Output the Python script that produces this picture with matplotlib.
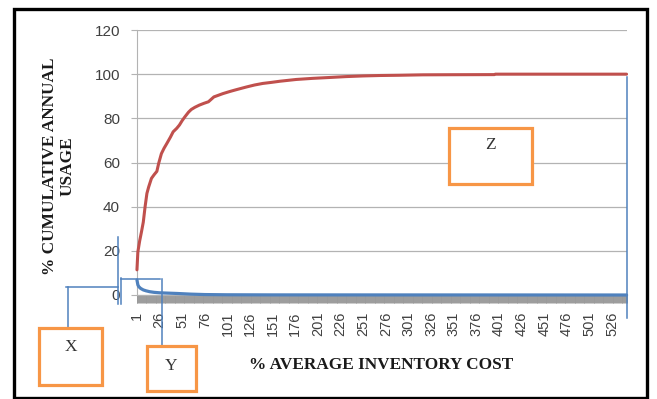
import numpy as np
import matplotlib
matplotlib.use('Agg')
import matplotlib.pyplot as plt
from matplotlib.lines import Line2D
from matplotlib.patches import Rectangle
from matplotlib.ticker import FixedLocator

# number of inventory items on the category axis
n_items = 542

# cumulative annual usage (%) read at selected items
usage_items = [1, 2, 4, 6, 8, 10, 12, 14, 17, 20, 23, 25, 28, 31, 34, 38, 41, 45,
               48, 51, 54, 58, 61, 65, 70, 75, 80, 86, 92, 96, 104, 111, 122, 131,
               140, 150, 159, 168, 177, 195, 214, 232, 251, 270, 290, 317, 350, 396,
               397, 542]
usage_pct = [11.4, 19.5, 24.5, 28.6, 33, 40, 46, 49, 52.8, 54.5, 56, 59.6, 64, 66.5,
             68.6, 71.5, 73.9, 75.5, 77, 79, 80.7, 82.8, 84, 85, 86, 86.8, 87.5, 89.7,
             90.6, 91.2, 92.2, 93, 94.2, 95.1, 95.8, 96.3, 96.8, 97.2, 97.6, 98.1,
             98.5, 98.9, 99.2, 99.4, 99.5, 99.7, 99.75, 99.8, 100, 100]

# per-item average inventory cost (%)
cost_items = [1, 2, 3, 5, 8, 11, 15, 20, 26, 35, 45, 60, 76, 100, 150, 542]
cost_pct = [6.8, 4.6, 3.8, 3.0, 2.3, 1.9, 1.5, 1.2, 1.0, 0.85, 0.7, 0.4, 0.2, 0.1, 0.05, 0.0]

tick_items = list(range(1, n_items + 1, 25))

W, H = 657, 399
fig = plt.figure(figsize=(W / 100, H / 100), dpi=100)


def fx(x):
    return x / W


def fy(y):
    return 1 - y / H


ax = fig.add_axes([fx(136.5), fy(295), (627 - 136.5) / W, (295 - 30) / H])
ax.plot(usage_items, usage_pct, color='#C0504D', lw=2.2, solid_capstyle='round',
        solid_joinstyle='round', clip_on=False, zorder=3)
ax.plot(cost_items, cost_pct, color='#4F81BD', lw=2.3, solid_capstyle='round',
        clip_on=False, zorder=3)

ax.set_xlim(0.5, n_items + 0.5)
ax.set_ylim(0, 120)
ax.set_yticks(range(0, 121, 20))
ax.yaxis.grid(True, color='#B3B3B3', lw=0.9)
ax.set_axisbelow(True)

ax.set_xticks(tick_items)
ax.set_xticklabels([str(t) for t in tick_items], rotation=90,
                   family='Liberation Sans', fontsize=10.5, color='#404040')
ax.xaxis.set_minor_locator(FixedLocator(np.arange(0.5, n_items + 1, 1)))
ax.tick_params(axis='x', which='major', length=0, pad=12)
ax.tick_params(axis='x', which='minor', length=5.5, width=0.7, color='#9A9A9A')
ax.tick_params(axis='y', length=4.3, color='#B3B3B3', pad=7.5)
for lbl in ax.get_yticklabels():
    lbl.set_family('Liberation Sans')
    lbl.set_fontsize(11)
    lbl.set_color('#404040')

for side in ['top', 'right']:
    ax.spines[side].set_visible(False)
ax.spines['left'].set_color('#B3B3B3')
ax.spines['bottom'].set_color('#B3B3B3')

# axis titles
fig.text(fx(381), fy(365), '% AVERAGE INVENTORY COST', ha='center', va='center',
         family='Liberation Serif', fontweight='bold', fontsize=12.4, color='#1a1a1a')
fig.text(fx(59), fy(166), '% CUMULATIVE ANNUAL\nUSAGE', ha='center', va='center',
         rotation=90, family='Liberation Serif', fontweight='bold', fontsize=12.4,
         linespacing=1.15, color='#1a1a1a')

# connector lines for the callouts
blue = '#4F81BD'
segments = [
    ((117.5, 237), (117.5, 304)),
    ((121, 278), (121, 304)),
    ((121, 279), (160, 279)),
    ((162, 279), (162, 346)),
    ((66, 287), (117.5, 287)),
    ((67.5, 287), (67.5, 328)),
    ((627, 77), (627, 318)),
]
for (x1, y1), (x2, y2) in segments:
    fig.add_artist(Line2D([fx(x1), fx(x2)], [fy(y1), fy(y2)], color=blue, lw=1.1,
                          transform=fig.transFigure, zorder=5))

# callout boxes
boxes = [('X', 39, 328, 102, 385, 347),
         ('Y', 147, 346, 196, 391, 366),
         ('Z', 449, 128, 532, 184, 145)]
for label, x1, y1, x2, y2, ty in boxes:
    fig.add_artist(Rectangle((fx(x1), fy(y2)), (x2 - x1) / W, (y2 - y1) / H,
                             transform=fig.transFigure, fc='white', ec='#F79646',
                             lw=2.3, zorder=6))
    fig.text(fx((x1 + x2) / 2), fy(ty), label, ha='center', va='center',
             family='Liberation Serif', fontsize=12.5, color='#333333', zorder=7)

# page frame
fig.add_artist(Rectangle((fx(14), fy(397.5)), (647 - 14) / W, (397.5 - 8.5) / H,
                         transform=fig.transFigure, fill=False, ec='black', lw=2.4,
                         zorder=8))

fig.savefig('out.png', dpi=100)
